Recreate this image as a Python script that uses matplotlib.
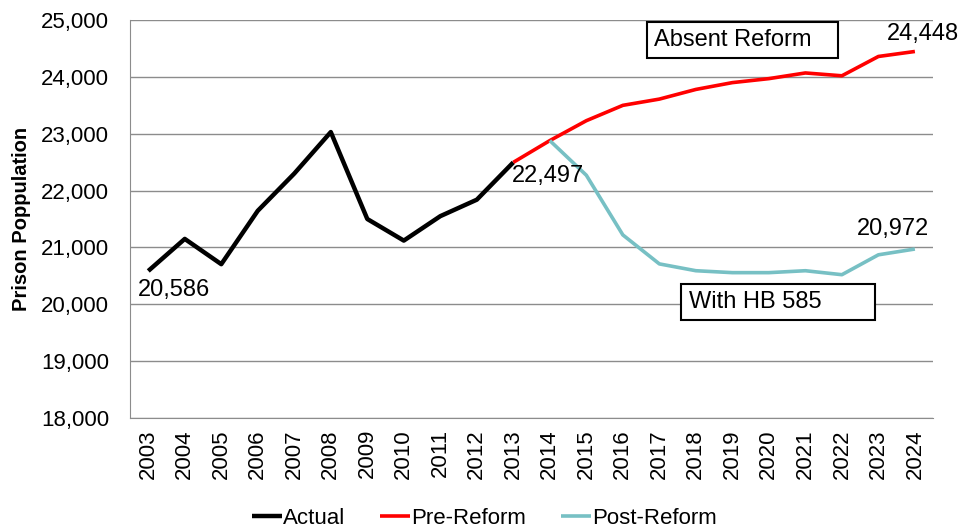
import matplotlib.pyplot as plt
import numpy as np

plt.rcParams['font.family'] = ['Liberation Sans', 'DejaVu Sans']

years = list(range(2003, 2025))

actual_years = list(range(2003, 2014))
actual = [20586, 21150, 20705, 21645, 22300, 23030, 21500, 21120, 21550, 21840, 22497]

pre_years = list(range(2013, 2025))
pre_reform = [22497, 22880, 23230, 23500, 23610, 23780, 23900, 23970, 24070, 24020, 24360, 24448]

post_years = list(range(2014, 2025))
post_reform = [22880, 22270, 21220, 20710, 20590, 20556, 20556, 20590, 20520, 20870, 20972]

fig = plt.figure(figsize=(9.63, 5.29), dpi=100)
ax = fig.add_axes([0.135, 0.21, 0.834, 0.752])

ax.plot(actual_years, actual, color="black", lw=3.2, label="Actual", solid_capstyle="butt")
ax.plot(pre_years, pre_reform, color="#ff0000", lw=2.6, label="Pre-Reform", solid_capstyle="butt")
ax.plot(post_years, post_reform, color="#77c0c4", lw=2.6, label="Post-Reform", solid_capstyle="butt")

ax.set_xlim(2002.5, 2024.5)
ax.set_ylim(18000, 25000)
ax.set_yticks(np.arange(18000, 25001, 1000))
ax.set_yticklabels(["{:,}".format(v) for v in range(18000, 25001, 1000)])
ax.set_xticks(years)
ax.set_xticklabels([str(y) for y in years], rotation=90)
ax.tick_params(axis='both', labelsize=16, length=0, colors="black")
ax.tick_params(axis='x', pad=8)
ax.tick_params(axis='y', pad=15)

ax.grid(axis='y', color="#8c8c8c", lw=1)
ax.set_axisbelow(True)
for side in ["top", "right"]:
    ax.spines[side].set_visible(False)
for side in ["left", "bottom"]:
    ax.spines[side].set_color("#8c8c8c")

ax.set_ylabel("Prison Poppulation", fontsize=14.5, fontweight="bold", labelpad=7)

# value labels
fs = 17
ax.text(actual_years[0] - 0.28, actual[0] - 150, "{:,}".format(actual[0]), fontsize=fs, va="top", ha="left")
ax.text(actual_years[-1] - 0.05, actual[-1] - 50, "{:,}".format(actual[-1]), fontsize=fs, va="top", ha="left")
ax.text(pre_years[-1] + 1.2, pre_reform[-1] + 120, "{:,}".format(pre_reform[-1]), fontsize=fs, va="bottom", ha="right")
ax.text(post_years[-1] + 0.38, post_reform[-1] + 150, "{:,}".format(post_reform[-1]), fontsize=fs, va="bottom", ha="right")

# boxed callouts
box = dict(boxstyle="square,pad=0.3", fc="white", ec="black", lw=1.5)
ax.text(2016.85, 24650, "Absent Reform   ", fontsize=fs, va="center", ha="left", bbox=box)
ax.text(2017.8, 20040, "With HB 585       ", fontsize=fs, va="center", ha="left", bbox=box)

fig.legend(loc="lower center", bbox_to_anchor=(0.503, -0.038), ncol=3, frameon=False,
           fontsize=16, handlelength=1.35, handletextpad=0.05, columnspacing=1.55)

fig.savefig("out.png", dpi=100)
